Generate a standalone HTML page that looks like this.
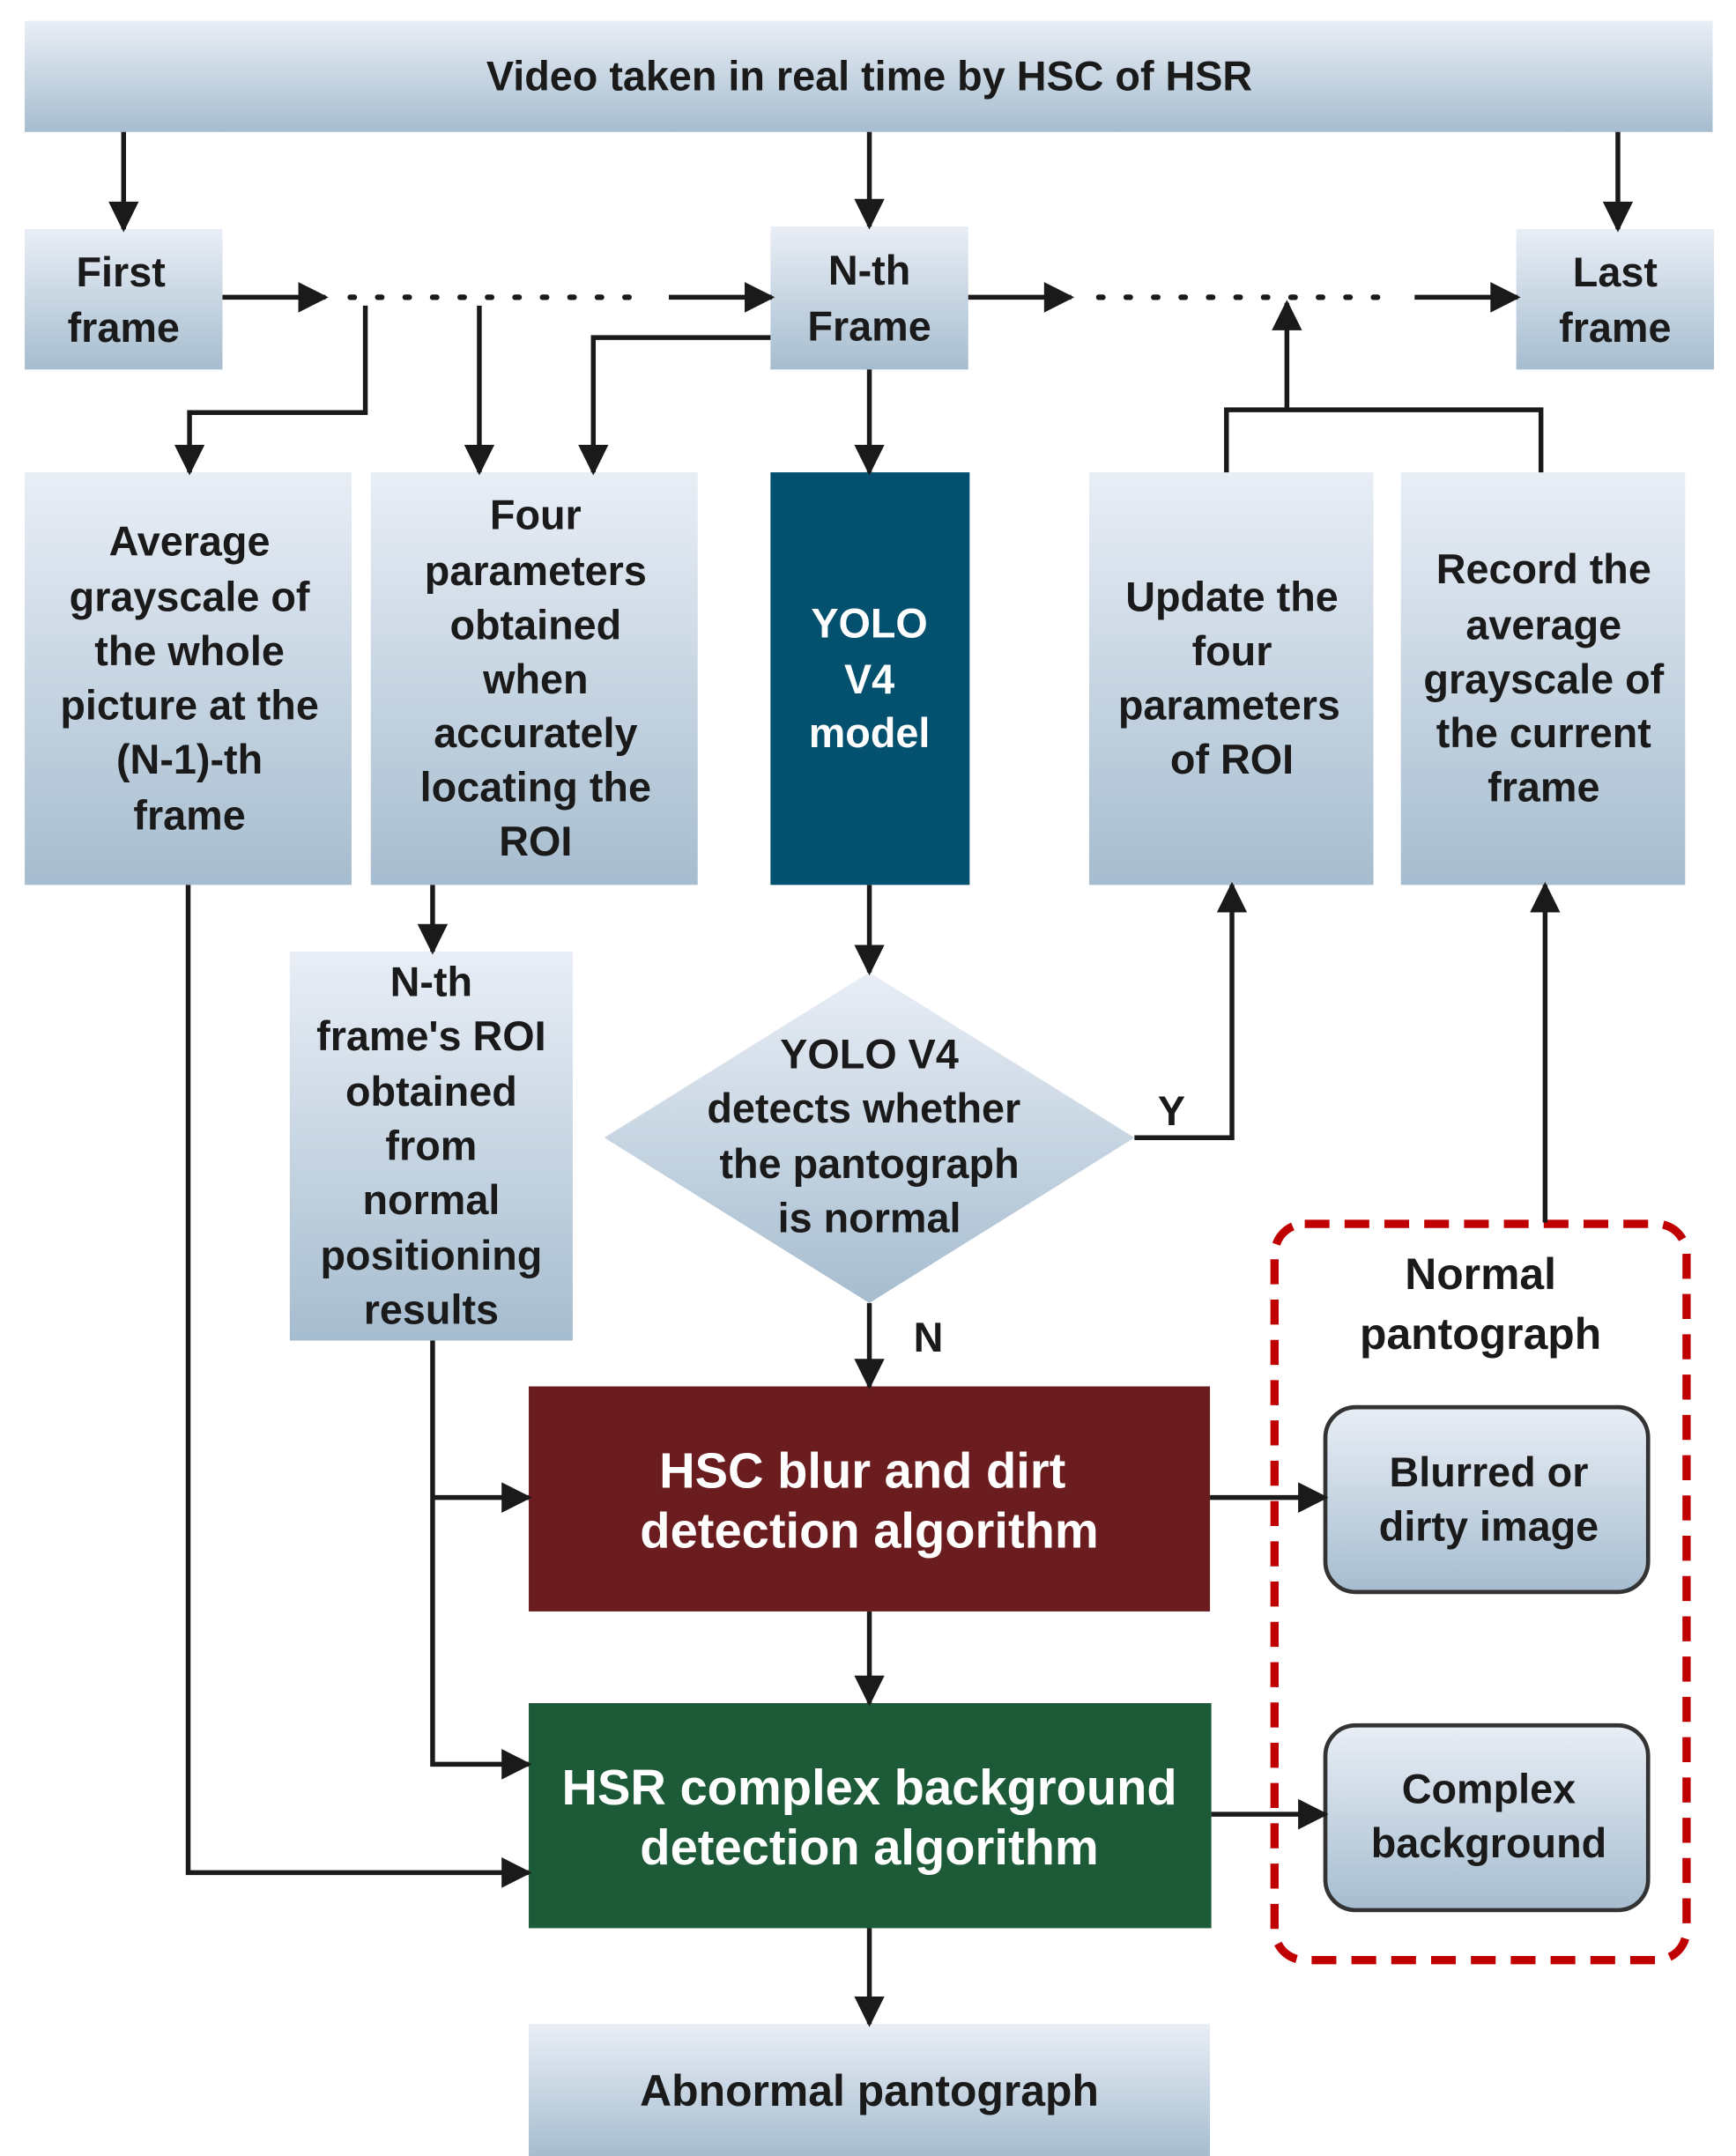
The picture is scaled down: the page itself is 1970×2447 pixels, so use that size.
<!DOCTYPE html>
<html><head><meta charset="utf-8"><style>html,body{margin:0;padding:0;background:#fff}svg{display:block}</style></head>
<body>
<svg width="1970" height="2447" viewBox="0 0 1264 1552" preserveAspectRatio="none" xmlns="http://www.w3.org/2000/svg">
<defs>
<linearGradient id="g" x1="0" y1="0" x2="0" y2="1"><stop offset="0" stop-color="#e9eef6"/><stop offset="1" stop-color="#a6bdcf"/></linearGradient>
<marker id="b" viewBox="0 0 10 10" refX="9" refY="5" markerWidth="24" markerHeight="22" orient="auto" markerUnits="userSpaceOnUse"><path d="M0,0 L10,5 L0,10 z" fill="#1a1a1a"/></marker>
</defs>
<style>
text{font-family:"Liberation Sans",sans-serif;font-weight:bold;font-size:30px;fill:#1a1a1a;text-anchor:middle}
.w{fill:#fff;font-size:36px}
.l{stroke:#1a1a1a;stroke-width:3.5;fill:none}
</style>
<rect x="18" y="15" width="1229" height="80" fill="url(#g)"/>
<text x="633" y="65">Video taken in real time by HSC of HSR</text>
<rect x="18" y="165" width="144" height="101" fill="url(#g)"/>
<text><tspan x="88" y="206">First</tspan><tspan x="90" y="246">frame</tspan></text>
<rect x="561" y="163" width="144" height="103" fill="url(#g)"/>
<text><tspan x="633" y="205">N-th</tspan><tspan x="633" y="245">Frame</tspan></text>
<rect x="1104" y="165" width="144" height="101" fill="url(#g)"/>
<text><tspan x="1176" y="206">Last</tspan><tspan x="1176" y="246">frame</tspan></text>

<rect x="18" y="340" width="238" height="297" fill="url(#g)"/>
<text><tspan x="138" y="400">Average</tspan><tspan x="138" y="440">grayscale of</tspan><tspan x="138" y="479">the whole</tspan><tspan x="138" y="518">picture at the</tspan><tspan x="138" y="557">(N-1)-th</tspan><tspan x="138" y="597">frame</tspan></text>
<rect x="270" y="340" width="238" height="297" fill="url(#g)"/>
<text><tspan x="390" y="381">Four</tspan><tspan x="390" y="421">parameters</tspan><tspan x="390" y="460">obtained</tspan><tspan x="390" y="499">when</tspan><tspan x="390" y="538">accurately</tspan><tspan x="390" y="577">locating the</tspan><tspan x="390" y="616">ROI</tspan></text>
<rect x="561" y="340" width="145" height="297" fill="#03506f"/>
<text style="fill:#fff"><tspan x="633" y="459">YOLO</tspan><tspan x="633" y="499">V4</tspan><tspan x="633" y="538">model</tspan></text>
<rect x="793" y="340" width="207" height="297" fill="url(#g)"/>
<text><tspan x="897" y="440">Update the</tspan><tspan x="897" y="479">four</tspan><tspan x="895" y="518">parameters</tspan><tspan x="897" y="557">of ROI</tspan></text>
<rect x="1020" y="340" width="207" height="297" fill="url(#g)"/>
<text><tspan x="1124" y="420">Record the</tspan><tspan x="1124" y="460">average</tspan><tspan x="1124" y="499">grayscale of</tspan><tspan x="1124" y="538">the current</tspan><tspan x="1124" y="577">frame</tspan></text>

<rect x="211" y="685" width="206" height="280" fill="url(#g)"/>
<text><tspan x="314" y="717">N-th</tspan><tspan x="314" y="756">frame's ROI</tspan><tspan x="314" y="796">obtained</tspan><tspan x="314" y="835">from</tspan><tspan x="314" y="874">normal</tspan><tspan x="314" y="914">positioning</tspan><tspan x="314" y="953">results</tspan></text>

<polygon points="633,700 826,819 633,938 440,819" fill="url(#g)"/>
<text><tspan x="633" y="769">YOLO V4</tspan><tspan x="629" y="808">detects whether</tspan><tspan x="633" y="848">the pantograph</tspan><tspan x="633" y="887">is normal</tspan></text>
<text x="853" y="810">Y</text>
<text x="676" y="973">N</text>

<rect x="385" y="998" width="496" height="162" fill="#6b1c1f"/>
<text class="w"><tspan x="628" y="1071">HSC blur and dirt</tspan><tspan x="633" y="1114">detection algorithm</tspan></text>
<rect x="385" y="1226" width="497" height="162" fill="#1c5a38"/>
<text class="w"><tspan x="633" y="1299">HSR complex background</tspan><tspan x="633" y="1342">detection algorithm</tspan></text>
<rect x="385" y="1457" width="496" height="95" fill="url(#g)"/>
<text x="633" y="1516" style="font-size:32px">Abnormal pantograph</text>

<rect x="928" y="881" width="300" height="530" rx="22" fill="none" stroke="#c00000" stroke-width="6" stroke-dasharray="18 11"/>
<text style="font-size:32px"><tspan x="1078" y="928">Normal</tspan><tspan x="1078" y="971">pantograph</tspan></text>
<rect x="965" y="1013" width="235" height="133" rx="22" fill="url(#g)" stroke="#333" stroke-width="3"/>
<text><tspan x="1084" y="1070">Blurred or</tspan><tspan x="1084" y="1109">dirty image</tspan></text>
<rect x="965" y="1242" width="235" height="133" rx="22" fill="url(#g)" stroke="#333" stroke-width="3"/>
<text><tspan x="1084" y="1298">Complex</tspan><tspan x="1084" y="1337">background</tspan></text>

<g class="l">
<path d="M90,95 V165" marker-end="url(#b)"/>
<path d="M633,95 V163" marker-end="url(#b)"/>
<path d="M1178,95 V165" marker-end="url(#b)"/>
<path d="M162,214 H237" marker-end="url(#b)"/>
<path d="M487,214 H562" marker-end="url(#b)"/>
<path d="M705,214 H780" marker-end="url(#b)"/>
<path d="M1030,214 H1105" marker-end="url(#b)"/>
<path d="M255,214 H470" stroke-dasharray="3 17" stroke-width="4" stroke-linecap="round"/>
<path d="M800,214 H1008" stroke-dasharray="3 17" stroke-width="4" stroke-linecap="round"/>
<path d="M266,220 V297 H138 V340" marker-end="url(#b)"/>
<path d="M349,220 V340" marker-end="url(#b)"/>
<path d="M561,243 H432 V340" marker-end="url(#b)"/>
<path d="M633,266 V340" marker-end="url(#b)"/>
<path d="M893,340 V295 H1122 V340"/>
<path d="M937,295 V218" marker-end="url(#b)"/>
<path d="M633,637 V700" marker-end="url(#b)"/>
<path d="M826,819 H897 V637" marker-end="url(#b)"/>
<path d="M1125,880 V637" marker-end="url(#b)"/>
<path d="M315,637 V685" marker-end="url(#b)"/>
<path d="M633,938 V998" marker-end="url(#b)"/>
<path d="M315,965 V1270 H385" marker-end="url(#b)"/>
<path d="M315,1078 H385" marker-end="url(#b)"/>
<path d="M137,637 V1348 H385" marker-end="url(#b)"/>
<path d="M633,1160 V1226" marker-end="url(#b)"/>
<path d="M633,1388 V1457" marker-end="url(#b)"/>
<path d="M881,1078 H965" marker-end="url(#b)"/>
<path d="M882,1306 H965" marker-end="url(#b)"/>
</g>
</svg>
</body></html>
